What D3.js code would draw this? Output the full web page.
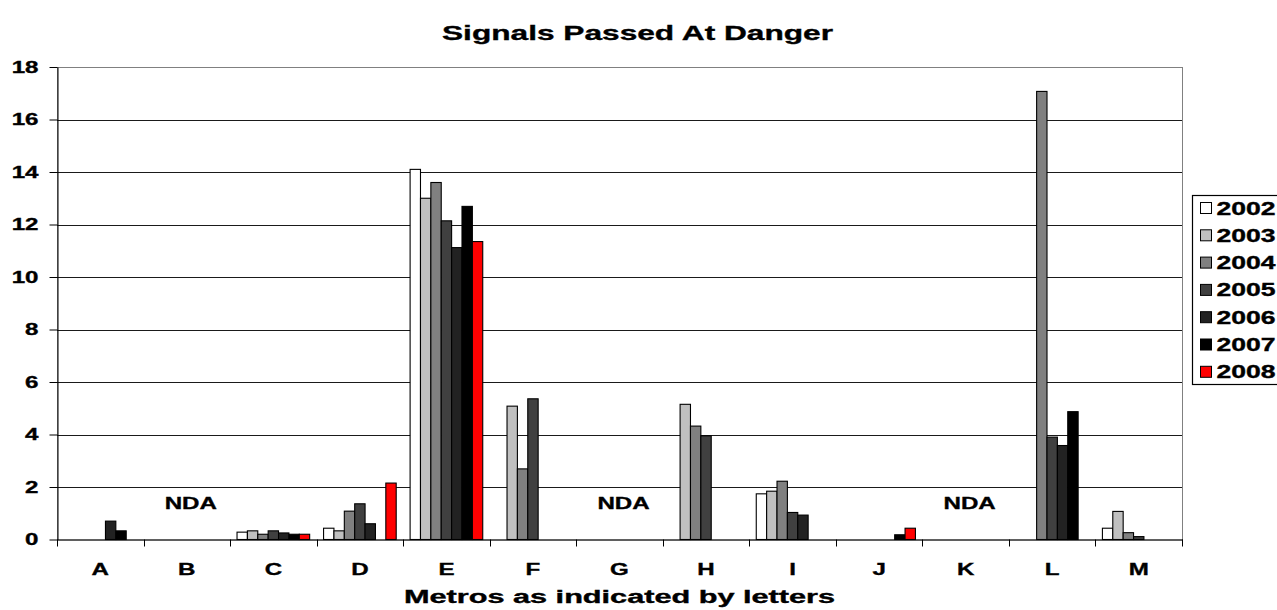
<!DOCTYPE html>
<html>
<head>
<meta charset="utf-8">
<script src="https://cdn.jsdelivr.net/npm/d3@7/dist/d3.min.js"></script>
<style>
  html, body { margin: 0; padding: 0; background: #fff; }
  svg { display: block; }
  text { font-family: "Liberation Sans", Arial, sans-serif; font-weight: bold; fill: #000; stroke: #000; stroke-width: 0.35px; }
</style>
</head>
<body>
<svg id="chart" width="1277" height="610"></svg>
<script>
// Metros, identified by letter
const metros = ["A", "B", "C", "D", "E", "F", "G", "H", "I", "J", "K", "L", "M"];
const years = ["2002", "2003", "2004", "2005", "2006", "2007", "2008"];
const yearColors = ["#ffffff", "#c0c0c0", "#808080", "#404040", "#222222", "#000000", "#ff0000"];

// Signals passed at danger per metro and year (null = no bar)
const spad2002 = [null, null, 0.28, 0.43, 14.1, null, null, null, 1.74, null, null, null, 0.43];
const spad2003 = [null, null, 0.33, 0.33, 13.0, 5.08, null, 5.15, 1.84, null, null, null, 1.07];
const spad2004 = [null, null, 0.2, 1.08, 13.6, 2.69, null, 4.32, 2.22, null, null, 17.07, 0.26];
const spad2005 = [null, null, 0.33, 1.36, 12.14, 5.36, null, 3.95, 1.03, null, null, 3.9, 0.11];
const spad2006 = [0.7, null, 0.25, 0.6, 11.12, null, null, null, 0.93, null, null, 3.58, null];
const spad2007 = [0.33, null, 0.2, null, 12.69, null, null, null, null, 0.18, null, 4.87, null];
const spad2008 = [null, null, 0.2, 2.15, 11.35, null, null, null, null, 0.43, null, null, null];

// Metros with no data available
const noDataMetros = ["B", "G", "K"];
const yTicks = [0, 2, 4, 6, 8, 10, 12, 14, 16, 18];

const seriesValues = [spad2002, spad2003, spad2004, spad2005, spad2006, spad2007, spad2008];
const series = years.map((y, i) => ({ year: y, color: yearColors[i], values: seriesValues[i] }));

const svg = d3.select("#chart");
const SX = 1.42; // horizontal stretch used for the lettering

const plot = { left: 57, right: 1182, top: 67, bottom: 539.5 };

const x0 = d3.scaleBand().domain(metros).range([plot.left, plot.right]).paddingInner(0).paddingOuter(0);
const x1 = d3.scaleBand().domain(years).range([0, x0.bandwidth()]).paddingInner(0).paddingOuter(0.67);
const y = d3.scaleLinear().domain([0, 18]).range([plot.bottom, plot.top]);

// plot frame
svg.append("rect")
  .attr("x", plot.left + 0.5).attr("y", Math.round(y(18)) + 0.5)
  .attr("width", plot.right - plot.left).attr("height", plot.bottom - Math.round(y(18)))
  .attr("fill", "none").attr("stroke", "#808080").attr("stroke-width", 1);

// horizontal gridlines
svg.append("g").selectAll("line")
  .data(yTicks.filter(t => t > 0 && t < 18))
  .join("line")
  .attr("x1", plot.left).attr("x2", plot.right)
  .attr("y1", d => Math.round(y(d)) + 0.5).attr("y2", d => Math.round(y(d)) + 0.5)
  .attr("stroke", "#1a1a1a").attr("stroke-width", 1);

// bars
const groups = svg.append("g").selectAll("g")
  .data(series)
  .join("g")
  .attr("fill", d => d.color);

groups.selectAll("rect")
  .data(s => s.values.map((v, i) => ({ metro: metros[i], year: s.year, value: v })).filter(d => d.value !== null))
  .join("rect")
  .attr("x", d => x0(d.metro) + x1(d.year))
  .attr("width", x1.bandwidth())
  .attr("y", d => y(d.value))
  .attr("height", d => y(0) - y(d.value))
  .attr("stroke", "#000").attr("stroke-width", 1.1);

// y axis
const yAxis = svg.append("g")
  .attr("transform", `translate(${plot.left + 0.5},0)`)
  .call(d3.axisLeft(y).tickValues(yTicks).tickSize(8).tickPadding(11).tickSizeOuter(0));
yAxis.select(".domain").attr("stroke", "#000");
yAxis.selectAll(".tick line").attr("stroke", "#000");
yAxis.selectAll("text")
  .attr("font-size", 17).attr("font-family", null)
  .attr("x", -19 / SX)
  .attr("transform", `scale(${SX},1)`);

// x axis: ticks sit on category boundaries, labels at the centres
const xAxisG = svg.append("g").attr("transform", `translate(0,${plot.bottom})`);
xAxisG.append("line")
  .attr("x1", plot.left).attr("x2", plot.right + 1)
  .attr("y1", 0.5).attr("y2", 0.5)
  .attr("stroke", "#000");
const boundaries = metros.map(m => x0(m)).concat([plot.right]);
xAxisG.selectAll(".bt")
  .data(boundaries)
  .join("line").attr("class", "bt")
  .attr("x1", d => Math.round(d) + 0.5).attr("x2", d => Math.round(d) + 0.5)
  .attr("y1", 0).attr("y2", 7)
  .attr("stroke", "#000");
xAxisG.selectAll(".lbl")
  .data(metros)
  .join("text").attr("class", "lbl")
  .attr("text-anchor", "middle")
  .attr("font-size", 17)
  .attr("transform", d => `translate(${x0(d) + x0.bandwidth() / 2},35.5) scale(${SX},1)`)
  .text(d => d);

// "no data available" notes
svg.append("g").selectAll("text")
  .data(noDataMetros)
  .join("text")
  .attr("text-anchor", "middle")
  .attr("font-size", 17)
  .attr("transform", d => `translate(${x0(d) + x0.bandwidth() / 2 + 4},509) scale(${SX},1)`)
  .text("NDA");

// chart title
svg.append("text")
  .attr("x", 442).attr("y", 40)
  .attr("font-size", 21)
  .attr("textLength", 391).attr("lengthAdjust", "spacingAndGlyphs")
  .text("Signals Passed At Danger");

// category axis title
svg.append("text")
  .attr("x", 404).attr("y", 603)
  .attr("font-size", 17.5)
  .attr("textLength", 431).attr("lengthAdjust", "spacingAndGlyphs")
  .text("Metros as indicated by letters");

// legend
const legend = svg.append("g");
legend.append("rect")
  .attr("x", 1192.5).attr("y", 195.5)
  .attr("width", 100).attr("height", 189)
  .attr("fill", "#fff").attr("stroke", "#000").attr("stroke-width", 1.2);
const items = legend.selectAll("g.item")
  .data(series)
  .join("g").attr("class", "item")
  .attr("transform", (d, i) => `translate(1200.5,${208 + i * 27.3})`);
items.append("rect")
  .attr("x", 0).attr("y", -5.5)
  .attr("width", 11).attr("height", 11)
  .attr("fill", d => d.color).attr("stroke", "#000").attr("stroke-width", 1);
items.append("text")
  .attr("x", 16).attr("y", 6.5)
  .attr("font-size", 17.5)
  .attr("textLength", 59).attr("lengthAdjust", "spacingAndGlyphs")
  .text(d => d.year);
</script>
</body>
</html>
